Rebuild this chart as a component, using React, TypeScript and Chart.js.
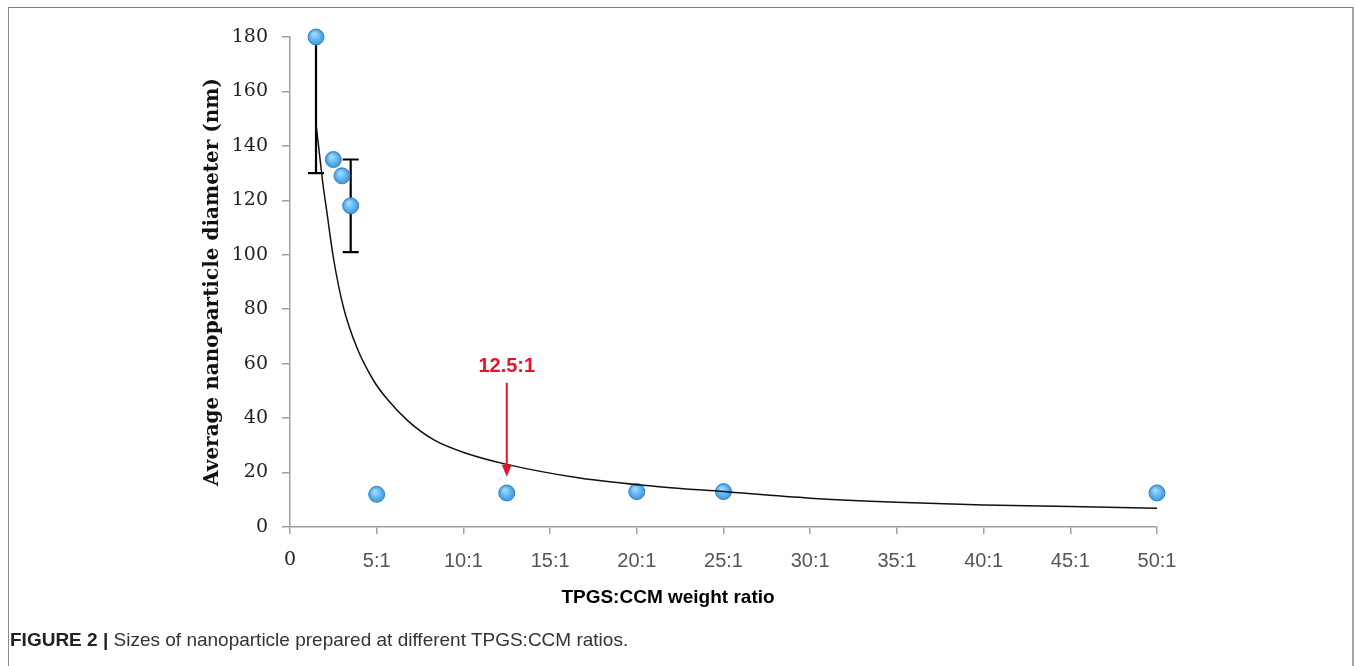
import React, { useEffect, useRef } from 'react';
import { Chart, registerables } from 'chart.js';

Chart.register(...registerables);

// Measured points (TPGS:CCM ratio vs diameter, nm)
const ratioX = [1.5, 2.5, 3, 3.5, 5, 12.5, 20, 25, 50];
const diameterY = [180, 135, 129, 118, 12, 12.5, 13, 13, 12.5];

// Error bars
const errorBarX = [1.5, 3.5];
const errorBarLow = [130, 101];
const errorBarHigh = [230, 135];

// Trend (fit) line
const fitX = [1.5, 1.7, 1.9, 2.12, 2.5, 3.07, 3.85, 4.8, 5.6, 6.8, 8.3, 10.2, 12.5, 16.7, 21.3, 25, 30, 35, 40, 45, 50];
const fitY = [148, 137, 126, 116, 99, 81, 66, 54, 47, 39, 32, 27, 23, 18, 14.8, 13, 10.6, 9.1, 8.1, 7.5, 6.9];

// Axis tick labels
const xTickLabels = ['0', '5:1', '10:1', '15:1', '20:1', '25:1', '30:1', '35:1', '40:1', '45:1', '50:1'];

// Annotation
const arrowX = 12.5;
const arrowFromY = 53;
const arrowToY = 18.5;
const arrowLabel = '12.5:1';
const arrowLabelY = 59;

const yTitle = 'Average nanoparticle diameter (nm)';
const xTitle = 'TPGS:CCM weight ratio';

const errorBarPlugin = {
  id: 'errorBars',
  beforeDatasetsDraw(chart: any) {
    const { ctx, scales } = chart;
    const xs = scales.x, ys = scales.y;
    ctx.save();
    ctx.strokeStyle = '#000';
    ctx.lineWidth = 2.2;
    errorBarX.forEach((xv, i) => {
      const px = xs.getPixelForValue(xv);
      const lo = ys.getPixelForValue(errorBarLow[i]);
      const hiVal = errorBarHigh[i];
      const hi = ys.getPixelForValue(Math.min(hiVal, ys.max));
      ctx.beginPath();
      ctx.moveTo(px, lo);
      ctx.lineTo(px, hi);
      ctx.stroke();
      const cap = 8;
      ctx.beginPath();
      ctx.moveTo(px - cap, lo);
      ctx.lineTo(px + cap, lo);
      if (hiVal <= ys.max) {
        ctx.moveTo(px - cap, hi);
        ctx.lineTo(px + cap, hi);
      }
      ctx.stroke();
    });
    ctx.restore();
  },
  afterDraw(chart: any) {
    const { ctx, scales } = chart;
    const xs = scales.x, ys = scales.y;
    ctx.save();
    const ax = xs.getPixelForValue(arrowX);
    const ay0 = ys.getPixelForValue(arrowFromY);
    const ay1 = ys.getPixelForValue(arrowToY);
    ctx.strokeStyle = '#e8132b';
    ctx.fillStyle = '#e8132b';
    ctx.lineWidth = 2;
    ctx.beginPath();
    ctx.moveTo(ax, ay0);
    ctx.lineTo(ax, ay1 - 10);
    ctx.stroke();
    ctx.beginPath();
    ctx.moveTo(ax - 5, ay1 - 12);
    ctx.lineTo(ax + 5, ay1 - 12);
    ctx.lineTo(ax, ay1);
    ctx.closePath();
    ctx.fill();
    ctx.font = 'bold 20px "Liberation Sans", Arial, sans-serif';
    ctx.textAlign = 'center';
    ctx.textBaseline = 'middle';
    ctx.fillText(arrowLabel, ax, ys.getPixelForValue(arrowLabelY));
    ctx.fillStyle = '#000';
    ctx.font = 'bold 19px "Liberation Sans", Arial, sans-serif';
    ctx.fillText(xTitle, 668, 598);
    ctx.restore();
  },
};

function pointFill(c: any) {
  const fallback = '#5aaee8';
  if (c.type !== 'data' || !c.parsed) return fallback;
  const xs = c.chart.scales && c.chart.scales.x;
  const ys = c.chart.scales && c.chart.scales.y;
  if (!xs || !ys) return fallback;
  const px = xs.getPixelForValue(c.parsed.x);
  const py = ys.getPixelForValue(c.parsed.y);
  if (!isFinite(px) || !isFinite(py)) return fallback;
  const g = c.chart.ctx.createRadialGradient(px - 2, py - 3, 1, px, py, 8);
  g.addColorStop(0, '#9fd8ff');
  g.addColorStop(0.55, '#62b6ef');
  g.addColorStop(1, '#3f95da');
  return g;
}

export default function App() {
  const ref = useRef<HTMLCanvasElement | null>(null);

  useEffect(() => {
    if (!ref.current) return;
    const chart = new Chart(ref.current, {
      type: 'scatter',
      data: {
        datasets: [
          {
            type: 'line',
            label: 'fit',
            data: fitX.map((x, i) => ({ x, y: fitY[i] })),
            borderColor: '#111',
            borderWidth: 1.5,
            pointRadius: 0,
            fill: false,
            cubicInterpolationMode: 'monotone',
          } as any,
          {
            type: 'scatter',
            label: 'size',
            data: ratioX.map((x, i) => ({ x, y: diameterY[i] })),
            pointRadius: 8,
            pointHoverRadius: 8,
            backgroundColor: pointFill,
            borderColor: '#3585c8',
            borderWidth: 1,
            clip: false,
          } as any,
        ],
      },
      options: {
        responsive: false,
        animation: false,
        events: [],
        layout: { padding: { left: 200, right: 198, top: 37, bottom: 0 } },
        plugins: { legend: { display: false }, tooltip: { enabled: false } },
        scales: {
          x: {
            type: 'linear',
            min: 0,
            max: 50,
            afterFit(scale: any) {
              scale.height = 139;
            },
            ticks: {
              stepSize: 5,
              padding: 15,
              autoSkip: false,
              maxRotation: 0,
              callback: (_v: any, i: number) => xTickLabels[i],
              color: (c: any) => (c.tick && c.tick.value === 0 ? '#222' : '#555'),
              font: (c: any) =>
                c.tick && c.tick.value === 0
                  ? { family: '"DejaVu Serif", serif', size: 19 }
                  : { family: '"Liberation Sans", Arial, sans-serif', size: 20 },
            },
            grid: { drawOnChartArea: false, drawTicks: true, tickLength: 7, color: '#a0a0a0', lineWidth: 1.5 },
            border: { display: true, color: '#a0a0a0', width: 1.5 },
          },
          y: {
            type: 'linear',
            min: 0,
            max: 180,
            afterFit(scale: any) {
              scale.width = 90;
            },
            ticks: {
              stepSize: 20,
              padding: 14,
              color: '#222',
              font: { family: '"DejaVu Serif", serif', size: 19 },
            },
            title: {
              display: true,
              text: yTitle,
              color: '#111',
              padding: { top: 1, bottom: 0 },
              font: { family: '"DejaVu Serif", serif', size: 20, weight: 'bold' },
            },
            grid: { drawOnChartArea: false, drawTicks: true, tickLength: 8, color: '#a0a0a0', lineWidth: 1.5 },
            border: { display: true, color: '#a0a0a0', width: 1.5 },
          },
        },
      } as any,
      plugins: [errorBarPlugin],
    });
    return () => chart.destroy();
  }, []);

  return (
    <div style={{ position: 'fixed', left: 0, top: 0, width: 1355, height: 666, overflow: 'hidden', background: '#fff' }}>
      <div
        style={{
          position: 'absolute',
          left: 8,
          top: 7,
          width: 1346,
          height: 720,
          boxSizing: 'border-box',
          borderTop: '1.5px solid #808080',
          borderLeft: '1px solid #8a8a8a',
          borderRight: '2px solid #a8a8a8',
        }}
      />
      <canvas ref={ref} width={1355} height={666} style={{ position: 'absolute', left: 0, top: 0 }} />
      <div
        style={{
          position: 'absolute',
          left: 10,
          top: 629,
          font: '19px "Liberation Sans", Arial, sans-serif',
          color: '#333',
          whiteSpace: 'nowrap',
        }}
      >
        <span style={{ fontWeight: 'bold', color: '#222' }}>FIGURE 2 |</span> Sizes of nanoparticle prepared at different TPGS:CCM ratios.
      </div>
    </div>
  );
}
